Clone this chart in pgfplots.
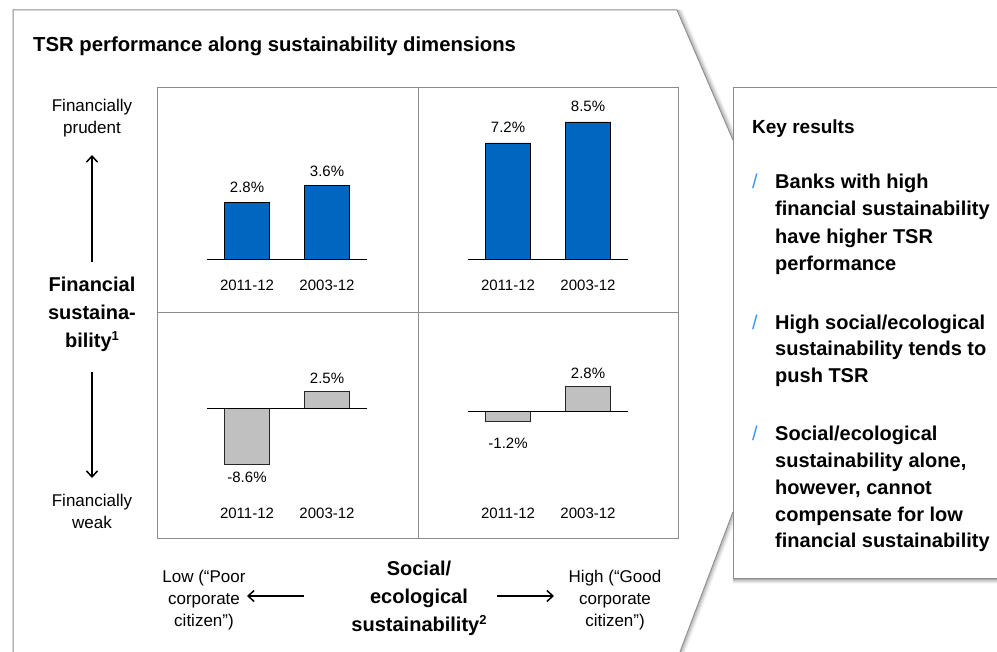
\documentclass[border=0pt]{standalone}
\usepackage{fontspec}
\setmainfont{Liberation Sans}
\usepackage{pgfplots}
\pgfplotsset{compat=1.18}
\usetikzlibrary{arrows.meta}
\definecolor{barblue}{RGB}{0,102,192}
\definecolor{bargray}{RGB}{192,192,192}
\definecolor{framegray}{RGB}{140,140,140}
\definecolor{slashblue}{RGB}{60,150,240}
\newcommand{\fs}[1]{\fontsize{#1bp}{#1bp}\selectfont}
\newcommand{\supnum}[1]{\raisebox{0.6ex}{\fs{13}#1}}

\pgfplotstableread{
x y
0 2.8
1 3.6
}\tlTable
\pgfplotstableread{
x y
0 7.2
1 8.5
}\trTable
\pgfplotstableread{
x y
0 -8.6
1 2.5
}\blTable
\pgfplotstableread{
x y
0 -1.2
1 2.8
}\brTable

\pgfplotsset{quad/.style={
  scale only axis, width=261bp,
  xmin=-1.125, xmax=2.1375,
  hide axis, clip=false,
  ybar, bar width=45bp,
  nodes near coords={\pgfmathprintnumber[fixed,fixed zerofill,precision=1,assume math mode=true]{\pgfplotspointmeta}\%},
  every node near coord/.append style={font=\fs{15}, text=black},
}}

\begin{document}
\begin{tikzpicture}
\begin{scope}[x=1bp,y=-1bp]
\path[use as bounding box] (0,0) rectangle (997,652);
\clip (0,0) rectangle (997,652);
% outer panel shadows
\foreach \o/\op in {1/0.35,2/0.25,3/0.17,4/0.1,5/0.05}{
  \draw[black!60, opacity=\op, line width=1.2bp] (677+\o,10) -- (733+\o,140);
  \draw[black!60, opacity=\op, line width=1.2bp] (733+\o,512) -- (680+\o,652);
  \draw[black!60, opacity=\op, line width=1.2bp] (733,578+\o) -- (1000,578+\o);
}
% outer panel
\draw[framegray, line width=1bp] (13,652) -- (13,10) -- (677,10) -- (733,140);
\draw[framegray, line width=1bp] (733,512) -- (680,652);
% key results box
\draw[framegray, line width=1bp, fill=white] (733,88) rectangle (1005,578);
% quadrant grid
\draw[framegray, line width=1bp] (157,88) rectangle (678,538);
\draw[framegray, line width=1bp] (418,88) -- (418,538);
\draw[framegray, line width=1bp] (157,312) -- (678,312);
% title
\node[anchor=base west, font=\fs{20.3}\bfseries, inner sep=0] at (33,52) {TSR performance along sustainability dimensions};
% key results text
\node[anchor=base west, font=\fs{19}\bfseries, inner sep=0] at (752,134) {Key results};
\foreach \yy/\t in {189/{Banks with high}, 215/{financial sustainability}, 243/{have higher TSR}, 270/{performance},
  329/{High social/ecological}, 355/{sustainability tends to}, 382/{push TSR},
  440/{Social/ecological}, 467/{sustainability alone,}, 494/{however, cannot}, 521/{compensate for low}, 547/{financial sustainability}}{
  \node[anchor=base west, font=\fs{20}\bfseries, inner sep=0] at (775,\yy) {\t};
}
\foreach \yy in {189,329,440}{
  \node[anchor=base west, font=\fs{20}, text=slashblue, inner sep=0] at (752,\yy) {/};
}
% left labels
\foreach \yy/\t in {112/Financially, 134/prudent, 506/Financially, 528/weak}{
  \node[anchor=base, font=\fs{17}, inner sep=0] at (92,\yy) {\t};
}
\node[anchor=base, font=\fs{20}\bfseries, inner sep=0] at (92,291) {Financial};
\node[anchor=base, font=\fs{20}\bfseries, inner sep=0] at (92,319) {sustaina-};
\node[anchor=base, font=\fs{20}\bfseries, inner sep=0] at (92,347) {bility\supnum{1}};
\draw[-{Straight Barb[length=6bp,width=11bp]}, line width=1.5bp] (92,262) -- (92,155);
\draw[-{Straight Barb[length=6bp,width=11bp]}, line width=1.5bp] (92,372) -- (92,478);
% bottom labels
\foreach \yy/\a/\b in {582/{Low (“Poor}/{High (“Good}, 604/corporate/corporate, 626/{citizen”)}/{citizen”)}}{
  \node[anchor=base, font=\fs{17}, inner sep=0] at (204,\yy) {\a};
  \node[anchor=base, font=\fs{17}, inner sep=0] at (615,\yy) {\b};
}
\node[anchor=base, font=\fs{20}\bfseries, inner sep=0] at (419,575) {Social/};
\node[anchor=base, font=\fs{20}\bfseries, inner sep=0] at (419,603) {ecological};
\node[anchor=base, font=\fs{20}\bfseries, inner sep=0] at (419,631) {sustainability\supnum{2}};
\draw[-{Straight Barb[length=6bp,width=11bp]}, line width=1.5bp] (304,596) -- (247,596);
\draw[-{Straight Barb[length=6bp,width=11bp]}, line width=1.5bp] (497,596) -- (554,596);
\end{scope}

% top-left
\begin{axis}[quad, height=224bp, at={(157bp,-312bp)}, anchor=south west, ymin=-2.604, ymax=8.403,
  every node near coord/.append style={inner ysep=9bp}]
\addplot[fill=barblue, draw=black, line width=0.8bp] table[x=x,y=y] {\tlTable};
\draw[line width=1bp] (axis cs:-0.5,0) -- (axis cs:1.5,0);
\node[font=\fs{15}] at ([yshift=-26bp]axis cs:0,0) {2011-12};
\node[font=\fs{15}] at ([yshift=-26bp]axis cs:1,0) {2003-12};
\end{axis}
% top-right
\begin{axis}[quad, height=224bp, at={(418bp,-312bp)}, anchor=south west, ymin=-3.288, ymax=10.608,
  every node near coord/.append style={inner ysep=9.5bp}]
\addplot[fill=barblue, draw=black, line width=0.8bp] table[x=x,y=y] {\trTable};
\draw[line width=1bp] (axis cs:-0.5,0) -- (axis cs:1.5,0);
\node[font=\fs{15}] at ([yshift=-26bp]axis cs:0,0) {2011-12};
\node[font=\fs{15}] at ([yshift=-26bp]axis cs:1,0) {2003-12};
\end{axis}
% bottom-left
\begin{axis}[quad, height=226bp, at={(157bp,-538bp)}, anchor=south west, ymin=-20.0, ymax=14.769,
  every node near coord/.append style={inner ysep=8bp}]
\addplot[fill=bargray, draw=black!85, line width=0.8bp] table[x=x,y=y] {\blTable};
\draw[line width=1bp] (axis cs:-0.5,0) -- (axis cs:1.5,0);
\node[font=\fs{15}] at ([yshift=-105bp]axis cs:0,0) {2011-12};
\node[font=\fs{15}] at ([yshift=-105bp]axis cs:1,0) {2003-12};
\end{axis}
% bottom-right
\begin{axis}[quad, height=226bp, at={(418bp,-538bp)}, anchor=south west, ymin=-14.432, ymax=11.25,
  visualization depends on={\thisrow{y} \as \rawy},
  every node near coord/.append style={inner ysep=7bp, yshift={(\rawy<0)*(-9)}}]
\addplot[fill=bargray, draw=black!85, line width=0.8bp] table[x=x,y=y] {\brTable};
\draw[line width=1bp] (axis cs:-0.5,0) -- (axis cs:1.5,0);
\node[font=\fs{15}] at ([yshift=-102bp]axis cs:0,0) {2011-12};
\node[font=\fs{15}] at ([yshift=-102bp]axis cs:1,0) {2003-12};
\end{axis}
\end{tikzpicture}
\end{document}
